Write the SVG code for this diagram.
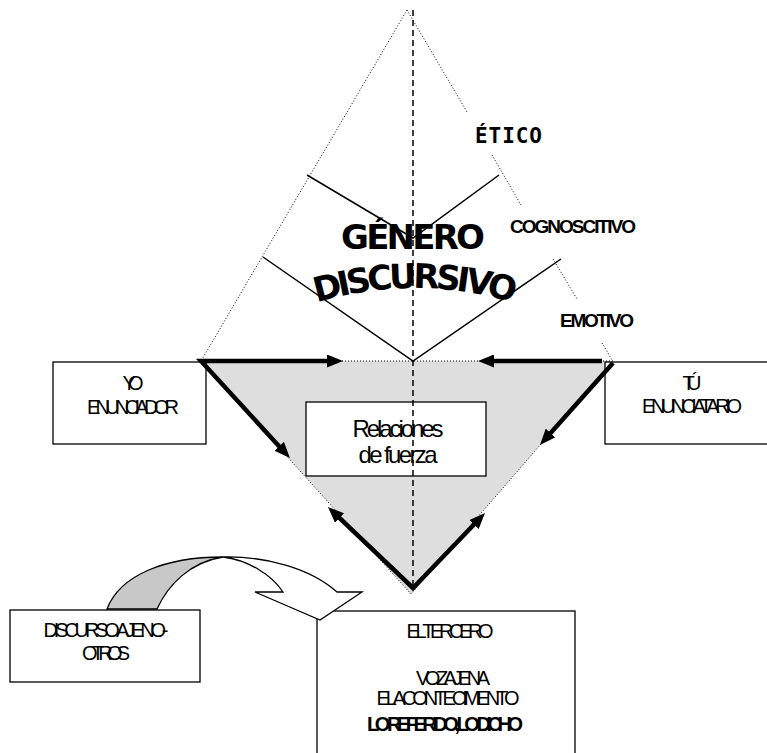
<svg xmlns="http://www.w3.org/2000/svg" width="767" height="753" viewBox="0 0 767 753">
<style>
.box{fill:#fff;stroke:#000;stroke-width:1.3}
.t{font-family:"Liberation Sans",Arial,sans-serif;font-size:20px;fill:#000;text-anchor:middle}
.r{font-size:24px}
.b{font-weight:bold}
.lbl{font-family:"Liberation Sans",Arial,sans-serif;font-weight:bold;font-size:19px;fill:#000}
.dot{fill:none;stroke:#000;stroke-width:1;stroke-dasharray:1 2}
.thin{fill:none;stroke:#000;stroke-width:1.5}
.thick{fill:none;stroke:#000;stroke-width:4.5;stroke-linejoin:miter;marker-end:url(#ah)}
.dash{fill:none;stroke:#000;stroke-width:1.5;stroke-dasharray:6 4}
</style>
<defs>
<marker id="ah" viewBox="0 0 16 13" refX="6" refY="6.5" markerWidth="16" markerHeight="13" markerUnits="userSpaceOnUse" orient="auto-start-reverse">
<path d="M0,0 L16,6.5 L0,13 Z" fill="#000"/>
</marker>
</defs>
<rect width="767" height="753" fill="#fff"/>

<g id="campo">
<polygon points="201,361 613,361 411,594" fill="#dedede" stroke="#000" stroke-width="1" stroke-dasharray="1 2"/>
</g>

<g id="yo">
<rect class="box" x="53" y="362" width="153" height="82"/>
<text class="t" x="133" y="390" textLength="21">YO</text>
<text class="t" x="133" y="414" textLength="92">ENUNCIADOR</text>
</g>

<g id="tu">
<rect class="box" x="605" y="362" width="170" height="82"/>
<text class="t" x="692" y="390" textLength="19">TÚ</text>
<text class="t" x="692" y="413" textLength="100">ENUNCIATARIO</text>
</g>

<g id="relaciones">
<rect class="box" x="306" y="402" width="180" height="74"/>
<text class="t r" x="398" y="437" textLength="91">Relaciones</text>
<text class="t r" x="398" y="463" textLength="79">de fuerza</text>
</g>

<g id="discurso-ajeno">
<rect class="box" x="10" y="610" width="190" height="72"/>
<text class="t" x="106" y="637" textLength="125">DISCURSO AJENO-</text>
<text class="t" x="106" y="660" textLength="48">OTROS</text>
</g>

<g id="tercero">
<rect class="box" x="317" y="611" width="258" height="150"/>
<text class="t" x="450" y="638" textLength="87">EL TERCERO</text>
<text class="t" x="453" y="685" textLength="74">VOZ AJENA</text>
<text class="t" x="448" y="705" textLength="143">EL ACONTECIMENTO</text>
<text class="t b" x="445" y="731" textLength="156">LO REFERIDO, LO DICHO</text>
</g>

<g id="genero">
<text x="413" y="249" text-anchor="middle" font-family="'DejaVu Sans',Verdana,sans-serif" font-weight="bold" font-size="34" textLength="144">GÉNERO</text>
<path id="arco" d="M315,303 Q415,273 515,303" fill="none"/>
<text font-family="'DejaVu Sans',Verdana,sans-serif" font-weight="bold" font-size="34" text-anchor="middle"><textPath href="#arco" startOffset="50%" textLength="200">DISCURSIVO</textPath></text>
</g>

<g id="etico">
<text x="475" y="143" font-family="'DejaVu Sans Mono',monospace" font-weight="bold" font-size="21" textLength="67">ÉTICO</text>
</g>
<g id="cognoscitivo">
<text class="lbl" x="510" y="233" textLength="126">COGNOSCITIVO</text>
</g>
<g id="emotivo">
<text class="lbl" x="560" y="327" textLength="74">EMOTIVO</text>
</g>

<g id="connectors">
<line class="dot" x1="407" y1="10" x2="201" y2="361"/>
<line class="dot" x1="407" y1="10" x2="467" y2="112"/>
<line class="dot" x1="492" y1="155" x2="521" y2="205"/>
<line class="dot" x1="553" y1="259" x2="577" y2="299"/>
<line class="dot" x1="602" y1="343" x2="612" y2="360"/>
<polyline class="thin" points="307,175 413,238 499,175"/>
<polyline class="thin" points="263,257 413,361 561,259"/>
<path class="thick" d="M333,361 L201,361 L283.2,450.7" style="marker-start:url(#ah)"/>
<path class="thick" d="M602,361 L488,361"/>
<path class="thick" d="M613,363 L546.6,437.5"/>
<path class="thick" d="M335.2,513.9 L413,588 L478.1,520.2" style="marker-start:url(#ah)"/>
<line class="dash" x1="413" y1="10" x2="413" y2="590"/>
<g id="flecha-curva" stroke="#000" stroke-width="1.3" stroke-linejoin="miter">
<path d="M107,609 C120,575 165,557 223,557 C190,562 168,585 157,609 Z" fill="#c8c8c8"/>
<path d="M223,557 C265,556 310,568 337,592 L362,592 L320,620 L255,592 L283,592 C272,575 248,560 223,557 Z" fill="#fff"/>
</g>
</g>
</svg>
